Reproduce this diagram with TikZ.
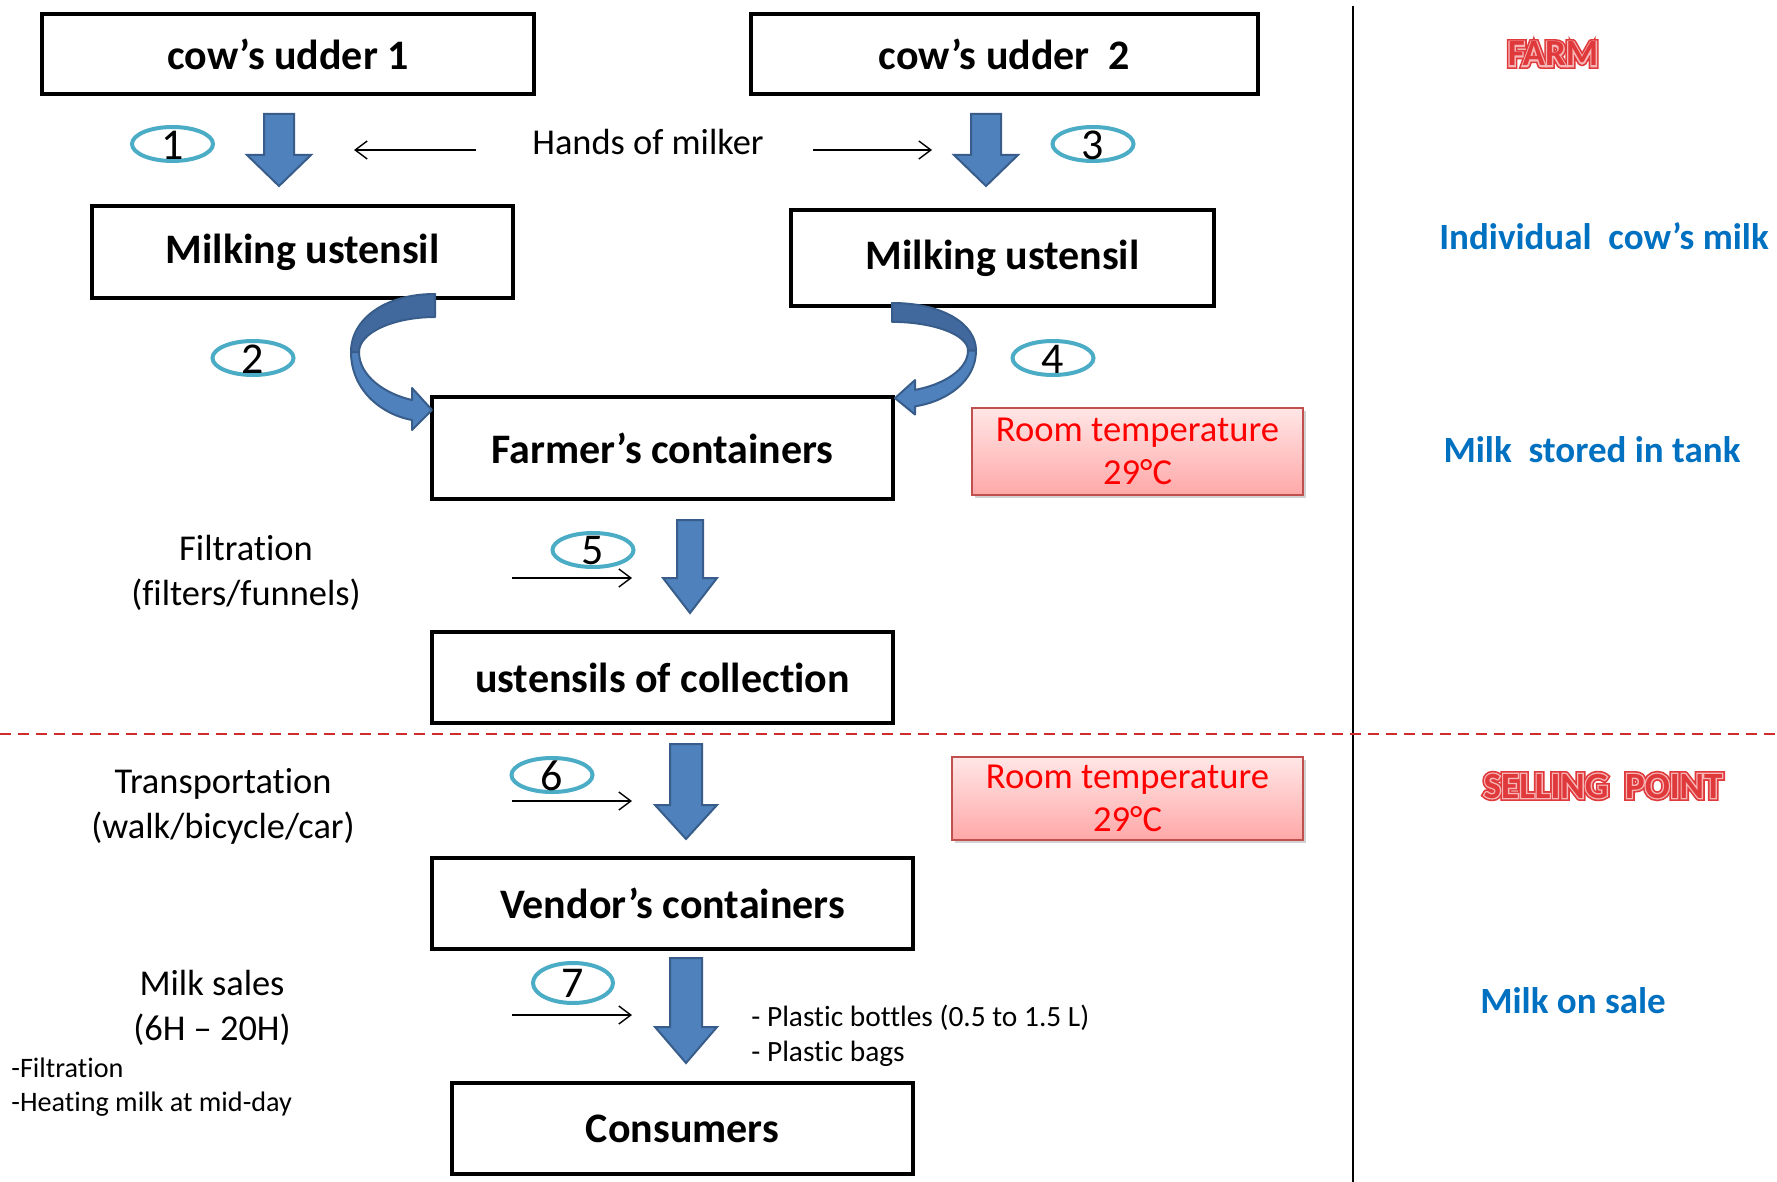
\documentclass[tikz,border=0pt]{standalone}
\usepackage{fontspec}
\setmainfont{Carlito}[Ligatures=NoCommon]
\newfontfamily\waout{Carlito}[BoldFeatures={FakeBold=16}]
\newfontfamily\wamid{Carlito}[BoldFeatures={FakeBold=7}]
\usetikzlibrary{shapes.geometric,arrows.meta,calc,shadows}
\definecolor{arrowfill}{HTML}{4F81BD}
\definecolor{arrowdark}{HTML}{41699E}
\definecolor{arrowline}{HTML}{385D8A}
\definecolor{numcol}{HTML}{4BACC6}
\definecolor{rtline}{HTML}{C0504D}
\definecolor{rttop}{HTML}{FFE6E6}
\definecolor{rtbot}{HTML}{FFA8A8}
\definecolor{bluetxt}{HTML}{0070C0}
\definecolor{wordred}{HTML}{E0393B}
\definecolor{wordlight}{HTML}{F6B6B6}
\definecolor{dashred}{HTML}{D02C2C}
\newcommand{\blockdown}[6]{%
  \filldraw[blockarrow] ({#1-#4},#2) -- ({#1+#4},#2) -- ({#1+#4},{#3-#6}) -- ({#1+#5},{#3-#6}) -- (#1,#3) -- ({#1-#5},{#3-#6}) -- ({#1-#4},{#3-#6}) -- cycle;}
\newcommand{\wordart}[3]{%
  \node[wordfont, text=wordred, font=\fontsize{18.5}{22}\waout\bfseries] at (#2) {#3};
  \node[wordfont, text=wordlight, font=\fontsize{18.5}{22}\wamid\bfseries] at (#2) {#3};
  \node[wordfont, text=wordred] (#1) at (#2) {#3};}
\newcommand{\curvedarrow}{%
  \filldraw[fill=arrowdark, draw=arrowline, line width=1pt, line join=round]
    (0,0) .. controls (-50,0) and (-84,25) .. (-84,58) -- (-76,58)
    .. controls (-76,38) and (-40,23) .. (0,23) -- cycle;
  \filldraw[fill=arrowfill, draw=arrowline, line width=1pt, line join=round]
    (-84,58) .. controls (-84,95) and (-55,120) .. (-23,126) -- (-23,136) -- (-3,116) -- (-23,94) -- (-23,106)
    .. controls (-50,100) and (-76,82) .. (-76,58) -- cycle;}
\begin{document}
\begin{tikzpicture}[x=0.5pt,y=-0.5pt,
  box/.style={draw=black, line width=2pt, inner sep=0pt, font=\fontsize{21}{25}\selectfont\bfseries},
  lbl/.style={inner sep=0pt, align=center, font=\fontsize{18.2}{22.5}\selectfont},
  smalltxt/.style={inner sep=0pt, align=left, font=\fontsize{14.5}{17.2}\selectfont},
  numell/.style={draw=numcol, line width=2pt, ellipse, inner sep=0pt, minimum width=40.5pt, minimum height=17pt},
  numtxt/.style={inner sep=0pt, font=\fontsize{22}{24}\selectfont},
  blockarrow/.style={fill=arrowfill, draw=arrowline, line width=1pt, line join=miter},
  thinarrow/.style={draw=black, line width=0.7pt, -{Straight Barb[length=6pt,width=9pt]}},
  rtbox/.style={draw=rtline, line width=1pt, top color=rttop, bottom color=rtbot, text=red, align=center, inner sep=0pt,
    font=\fontsize{18.3}{21.8}\selectfont, drop shadow={shadow xshift=1.5pt, shadow yshift=-1.5pt, opacity=0.35}},
  zone/.style={inner sep=0pt, text=bluetxt, font=\fontsize{18.5}{22}\selectfont\bfseries},
  wordfont/.style={inner sep=0pt, font=\fontsize{18.5}{22}\selectfont\bfseries}
]
\useasboundingbox (0,0) rectangle (1777,1182);
\fill[white] (0,0) rectangle (1777,1182);

% separators
\draw[black, line width=0.8pt] (1353,6) -- (1353,1182);
\draw[dashred, line width=1pt, dash pattern=on 5.5pt off 3.5pt] (0,734) -- (1777,734);

% boxes
\node[box, minimum width=246pt, minimum height=40pt] (u1) at (288,54) {cow’s udder 1};
\node[box, minimum width=253.5pt, minimum height=40pt] (u2) at (1004.5,54) {cow’s udder\ \ 2};
\node[box, minimum width=210.5pt, minimum height=46pt] (m1) at (302.5,252) {Milking ustensil};
\node[box, minimum width=211.5pt, minimum height=48pt] (m2) at (1002.5,258) {Milking ustensil};
\node[box, minimum width=230.5pt, minimum height=51pt] (fc) at (662.5,448) {Farmer’s containers};
\node[box, minimum width=230.5pt, minimum height=45.5pt] (uc) at (662.5,677.5) {ustensils of collection};
\node[box, minimum width=240.5pt, minimum height=45.5pt] (vc) at (672.5,903.5) {Vendor’s containers};
\node[box, minimum width=230.5pt, minimum height=45.5pt] (cs) at (682.5,1128.5) {Consumers};

% room temperature
\node[rtbox, minimum width=165.5pt, minimum height=43.5pt] (rt1) at (1137.5,451.5) {Room temperature\\29°C};
\node[rtbox, minimum width=175.5pt, minimum height=41.5pt] (rt2) at (1127.5,798.5) {Room temperature\\29°C};

% block arrows
\blockdown{279}{114}{186}{15}{32}{31}
\blockdown{986}{114}{186}{15}{32}{31}
\blockdown{690}{520}{613}{13}{27}{35}
\blockdown{686}{744}{839}{16}{31}{34}
\blockdown{686}{958}{1063}{16}{31}{36}

% curved arrows
\begin{scope}[shift={(435,294)}]
  \curvedarrow
\end{scope}
\begin{scope}[shift={(892,303)}, xscale=-1, yscale=0.82]
  \curvedarrow
\end{scope}

% numbered ellipses
\node[numell] (e1) at (172.5,144) {};
\node[numtxt] (n1) at (172.5,145) {1};
\node[numell] (e2) at (253,358) {};
\node[numtxt] (n2) at (253,359) {2};
\node[numell] (e3) at (1093,144) {};
\node[numtxt] (n3) at (1093,145) {3};
\node[numell] (e4) at (1053,358) {};
\node[numtxt] (n4) at (1053,359) {4};
\node[numell] (e5) at (593,550) {};
\node[numtxt] (n5) at (593,551) {5};
\node[numell] (e6) at (552,775) {};
\node[numtxt] (n6) at (552,776) {6};
\node[numell, minimum width=40pt, minimum height=20pt] (e7) at (573,983) {};
\node[numtxt] (n7) at (573,983) {7};

% labels on the left / middle
\node[lbl] (hands) at (648,142) {Hands of milker};
\coordinate (h1s) at (476,150);
\coordinate (h1e) at (354,150);
\coordinate (h2s) at (813,150);
\coordinate (h2e) at (932,150);
\draw[thinarrow] (h1s) -- (h1e);
\draw[thinarrow] (h2s) -- (h2e);

\node[lbl] (filt) at (246,573) {Filtration\\(filters/funnels)};
\coordinate (f1) at (512,578);
\coordinate (f2) at (632,578);
\draw[thinarrow] (f1) -- (f2);

\node[lbl] (trans) at (223,806) {Transportation\\(walk/bicycle/car)};
\coordinate (t1) at (512,801);
\coordinate (t2) at (632,801);
\draw[thinarrow] (t1) -- (t2);

\node[lbl] (sales) at (212,1008) {Milk sales\\(6H – 20H)};
\coordinate (s1) at (512,1015);
\coordinate (s2) at (632,1015);
\draw[thinarrow] (s1) -- (s2);

\node[smalltxt, anchor=west, font=\fontsize{14.1}{17.2}\selectfont] (notes) at (11,1087) {-Filtration\\-Heating milk at mid-day};
\node[smalltxt, anchor=west, font=\fontsize{14.7}{17.6}\selectfont] (pack) at (751,1036) {- Plastic bottles (0.5 to 1.5 L)\\- Plastic bags};

% right column
\wordart{farm}{1553,54}{FARM}
\node[zone] (ind) at (1604,236) {Individual\ \ cow’s milk};
\node[zone] (tank) at (1592,450) {Milk\ \ stored in tank};
\wordart{sell}{1603,786}{SELLING\ \ POINT}
\node[zone] (sale) at (1573,1001) {Milk on sale};
\end{tikzpicture}
\end{document}
